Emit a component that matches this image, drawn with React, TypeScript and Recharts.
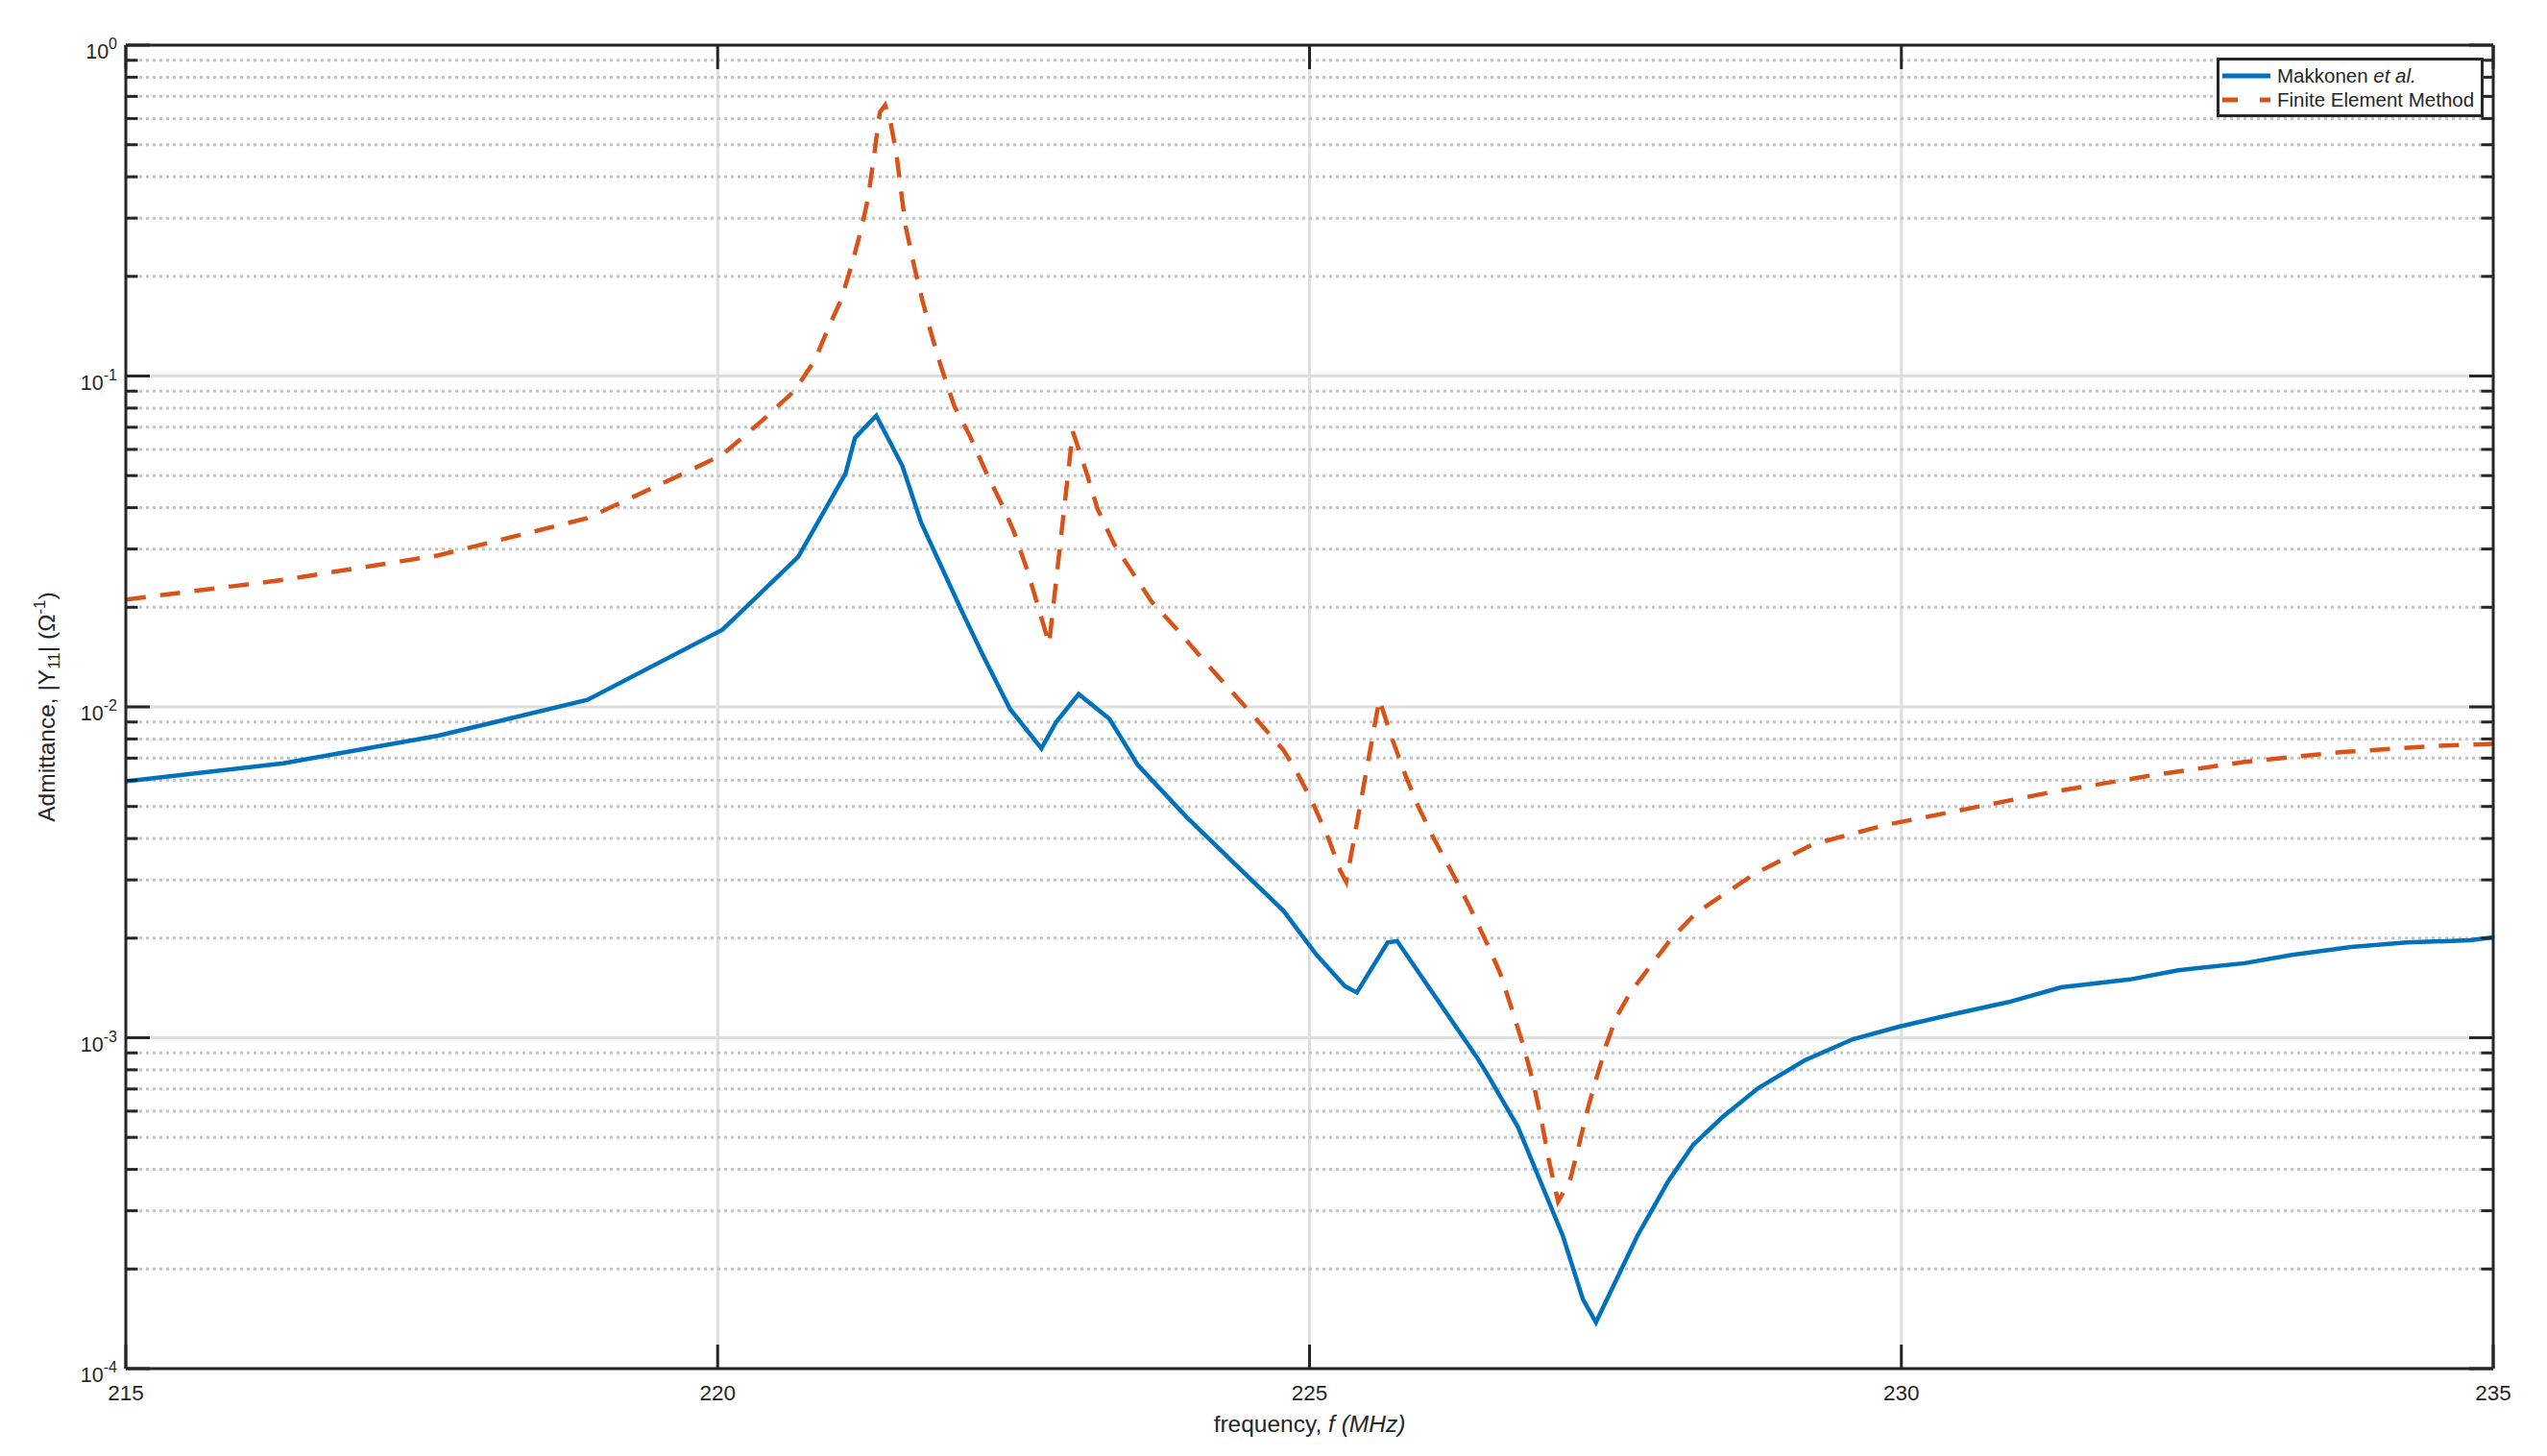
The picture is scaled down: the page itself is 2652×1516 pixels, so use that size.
import React from 'react';
import { LineChart, Line, XAxis, YAxis, CartesianGrid } from 'recharts';

// Makkonen et al. (blue, solid)
const makkonenFreq = [
  215, 216.33, 217.64, 218.9, 220.04, 220.68, 221.08, 221.16, 221.34, 221.56, 221.72, 222.05,
  222.25, 222.47, 222.735, 222.86, 223.05, 223.31, 223.55, 223.96, 224.37, 224.78, 225.06,
  225.3, 225.4, 225.66, 225.74, 226.41, 226.51, 226.76, 226.94, 227.14, 227.31, 227.42,
  227.59, 227.77, 228.03, 228.24, 228.49, 228.79, 229.18, 229.59, 229.98, 230.4, 230.9,
  231.35, 231.93, 232.34, 232.9, 233.3, 233.8, 234.27, 234.8, 235,
];
const makkonenAdm = [
  0.00596, 0.00675, 0.00818, 0.0105, 0.0171, 0.0284, 0.0507, 0.065, 0.0759, 0.0535, 0.036, 0.0199,
  0.0141, 0.00985, 0.00749, 0.009, 0.01093, 0.0092, 0.00667, 0.00465, 0.00335, 0.00242, 0.00178,
  0.00143, 0.00137, 0.00194, 0.00196, 0.000877, 0.000767, 0.000538, 0.000376, 0.000252, 0.000162, 0.000138,
  0.000185, 0.000252, 0.000368, 0.000474, 0.000576, 0.000704, 0.000853, 0.00099, 0.00108, 0.00117, 0.00128,
  0.00142, 0.0015, 0.0016, 0.00168, 0.00178, 0.00188, 0.00194, 0.00197, 0.00201,
];

// Finite Element Method (orange, dashed)
const femFreq = [
  215, 216.33, 217.64, 218.9, 219.7, 220.04, 220.39, 220.65, 220.82, 220.94, 221.04, 221.13,
  221.21, 221.27, 221.32, 221.37, 221.415, 221.46, 221.51, 221.55, 221.59, 221.66, 221.73,
  221.81, 221.89, 222.0, 222.13, 222.27, 222.4, 222.5, 222.62, 222.7, 222.8, 223.0, 223.11,
  223.21, 223.35, 223.51, 223.67, 223.89, 224.1, 224.32, 224.47, 224.78, 224.89, 225.03,
  225.16, 225.26, 225.31, 225.59, 225.7, 225.81, 225.92, 226.05, 226.21, 226.35, 226.49,
  226.61, 226.7, 226.81, 226.89, 226.96, 227.02, 227.1, 227.2, 227.28, 227.36, 227.43,
  227.51, 227.59, 227.71, 227.87, 228.06, 228.27, 228.52, 228.76, 229.25, 229.87, 230.56,
  231.25, 232.07, 232.9, 233.72, 234.55, 235,
];
const femAdm = [
  0.0211, 0.0242, 0.0287, 0.0372, 0.0505, 0.0578, 0.0741, 0.0903, 0.1116, 0.141, 0.169, 0.215,
  0.275, 0.344, 0.46, 0.627, 0.659, 0.586, 0.47, 0.36, 0.281, 0.215, 0.169,
  0.132, 0.106, 0.081, 0.066, 0.051, 0.041, 0.034, 0.0256, 0.0205, 0.0155, 0.068, 0.0518,
  0.0396, 0.031, 0.0253, 0.0207, 0.017, 0.0139, 0.01135, 0.0099, 0.0074, 0.00639, 0.0051,
  0.004, 0.0032, 0.00296, 0.01052, 0.00797, 0.00622, 0.00499, 0.004, 0.00313, 0.0025, 0.00196,
  0.00157, 0.00125, 0.000938, 0.000733, 0.000561, 0.00043, 0.00032, 0.00037, 0.00048, 0.000628, 0.000767,
  0.000958, 0.00115, 0.00137, 0.00163, 0.002, 0.00239, 0.00274, 0.00313, 0.00384, 0.0044, 0.00492,
  0.00551, 0.00617, 0.00682, 0.0073, 0.00763, 0.00773,
];

const xTicks = [215, 220, 225, 230, 235];
const xGrid = [220, 225, 230];
const decades = [1e-4, 1e-3, 1e-2, 1e-1, 1];
const minors = [-4, -3, -2, -1].flatMap((e) => [2, 3, 4, 5, 6, 7, 8, 9].map((k) => k * Math.pow(10, e)));
const yTicks = [...decades, ...minors].sort((a, b) => a - b);

const makkonenData = makkonenFreq.map((x, i) => ({ x, y: makkonenAdm[i] }));
const femData = femFreq.map((x, i) => ({ x, y: femAdm[i] }));

const AXIS = '#262626';
const BLUE = '#0072BD';
const ORANGE = '#D95319';
const FONT = '"Liberation Sans", Arial, Helvetica, sans-serif';
const MAJOR = 25;
const MINOR = 12.5;

const isDecade = (v: number) => Math.abs(Math.log10(v) - Math.round(Math.log10(v))) < 1e-6;

const LeftTick = (props: any) => {
  const { x, y, payload } = props;
  const v = payload.value;
  const ax = x + 9;
  const major = isDecade(v);
  return (
    <g>
      <line x1={ax} x2={ax + (major ? MAJOR : MINOR)} y1={y} y2={y} stroke={AXIS} strokeWidth={3} />
      {major && (
        <text x={x} y={y + 14} textAnchor="end" fontSize={21.5} fill={AXIS} fontFamily={FONT}>
          10
          <tspan dy={-10} fontSize={16}>{String(Math.round(Math.log10(v)))}</tspan>
        </text>
      )}
    </g>
  );
};

const RightTick = (props: any) => {
  const { x, y, payload } = props;
  const len = isDecade(payload.value) ? MAJOR : MINOR;
  return <line x1={x} x2={x - len} y1={y} y2={y} stroke={AXIS} strokeWidth={3} />;
};

const BottomTick = (props: any) => {
  const { x, y, payload } = props;
  const ay = y - 14;
  return (
    <g>
      <line x1={x} x2={x} y1={ay} y2={ay - MAJOR} stroke={AXIS} strokeWidth={3} />
      <text x={x} y={y + 19} textAnchor="middle" fontSize={22.5} fill={AXIS} fontFamily={FONT}>
        {payload.value}
      </text>
    </g>
  );
};

const TopTick = (props: any) => {
  const { x, y } = props;
  return <line x1={x} x2={x} y1={y} y2={y + MAJOR} stroke={AXIS} strokeWidth={3} />;
};

const YTitle = (props: any) => {
  const vb = props.viewBox;
  const cx = vb.x + 26;
  const cy = vb.y + vb.height / 2;
  return (
    <text x={cx} y={cy} transform={`rotate(-90, ${cx}, ${cy})`} textAnchor="middle" fontSize={24.5} fill={AXIS} fontFamily={FONT}>
      Admittance, |Y
      <tspan dy={5} fontSize={17}>11</tspan>
      <tspan dy={-5}>| (Ω</tspan>
      <tspan dy={-10} fontSize={17}>-1</tspan>
      <tspan dy={10}>)</tspan>
    </text>
  );
};

const XTitle = (props: any) => {
  const vb = props.viewBox;
  return (
    <text x={vb.x + vb.width / 2} y={vb.y + 66} textAnchor="middle" fontSize={24.5} fill={AXIS} fontFamily={FONT}>
      frequency, <tspan fontStyle="italic">f (MHz)</tspan>
    </text>
  );
};

const ChartLegend = () => (
  <div
    style={{
      position: 'absolute', left: 2308, top: 60, width: 272, height: 56,
      border: `3px solid ${AXIS}`, background: '#fff', fontFamily: FONT, fontSize: 20.5, color: AXIS,
      boxSizing: 'content-box',
    }}
  >
    {[
      { color: BLUE, dash: undefined, label: <>Makkonen <i>et al.</i></> },
      { color: ORANGE, dash: '16 23', label: <>Finite Element Method</> },
    ].map((item, i) => (
      <div key={i} style={{ display: 'flex', alignItems: 'center', height: 25, marginTop: i === 0 ? 3 : 0 }}>
        <svg width={60} height={25}>
          <line x1={3} x2={53} y1={13} y2={13} stroke={item.color} strokeWidth={5} strokeDasharray={item.dash} />
        </svg>
        <span style={{ lineHeight: '25px' }}>{item.label}</span>
      </div>
    ))}
  </div>
);

export default function App() {
  return (
    <div style={{ position: 'absolute', left: 0, top: 0, width: 2652, height: 1516, background: '#fff' }}>
      <LineChart width={2652} height={1516} margin={{ top: 37, right: 36, bottom: 31, left: 31 }}>
        <CartesianGrid xAxisId="b" yAxisId="l" horizontalValues={decades} verticalValues={xGrid} stroke="#dedede" strokeWidth={3} />
        <CartesianGrid xAxisId="b" yAxisId="l" horizontalValues={minors} vertical={false} stroke="#c4c4c4" strokeWidth={3} strokeDasharray="3 4" />
        <XAxis
          xAxisId="b" dataKey="x" type="number" domain={[215, 235]} ticks={xTicks} interval={0}
          height={60} tickSize={0} tickMargin={14} tickLine={false} tick={<BottomTick />}
          axisLine={{ stroke: AXIS, strokeWidth: 3 }} label={<XTitle />} allowDataOverflow
        />
        <XAxis
          xAxisId="t" orientation="top" dataKey="x" type="number" domain={[215, 235]} ticks={xTicks} interval={0}
          height={10} tickSize={0} tickMargin={0} tickLine={false} tick={<TopTick />}
          axisLine={{ stroke: AXIS, strokeWidth: 3 }} allowDataOverflow
        />
        <YAxis
          yAxisId="l" type="number" scale="log" domain={[1e-4, 1]} ticks={yTicks} interval={0}
          width={100} tickSize={0} tickMargin={9} tickLine={false} tick={<LeftTick />}
          axisLine={{ stroke: AXIS, strokeWidth: 3 }} label={<YTitle />} allowDataOverflow
        />
        <YAxis
          yAxisId="r" orientation="right" type="number" scale="log" domain={[1e-4, 1]} ticks={yTicks} interval={0}
          width={20} tickSize={0} tickMargin={0} tickLine={false} tick={<RightTick />}
          axisLine={{ stroke: AXIS, strokeWidth: 3 }} allowDataOverflow
        />
        <Line
          xAxisId="b" yAxisId="l" data={makkonenData} dataKey="y" type="linear" stroke={BLUE}
          strokeWidth={4.5} dot={false} isAnimationActive={false} name="Makkonen et al."
        />
        <Line
          xAxisId="b" yAxisId="l" data={femData} dataKey="y" type="linear" stroke={ORANGE}
          strokeWidth={4.5} strokeDasharray="21 15" dot={false} isAnimationActive={false} name="Finite Element Method"
        />
      </LineChart>
      <ChartLegend />
    </div>
  );
}
